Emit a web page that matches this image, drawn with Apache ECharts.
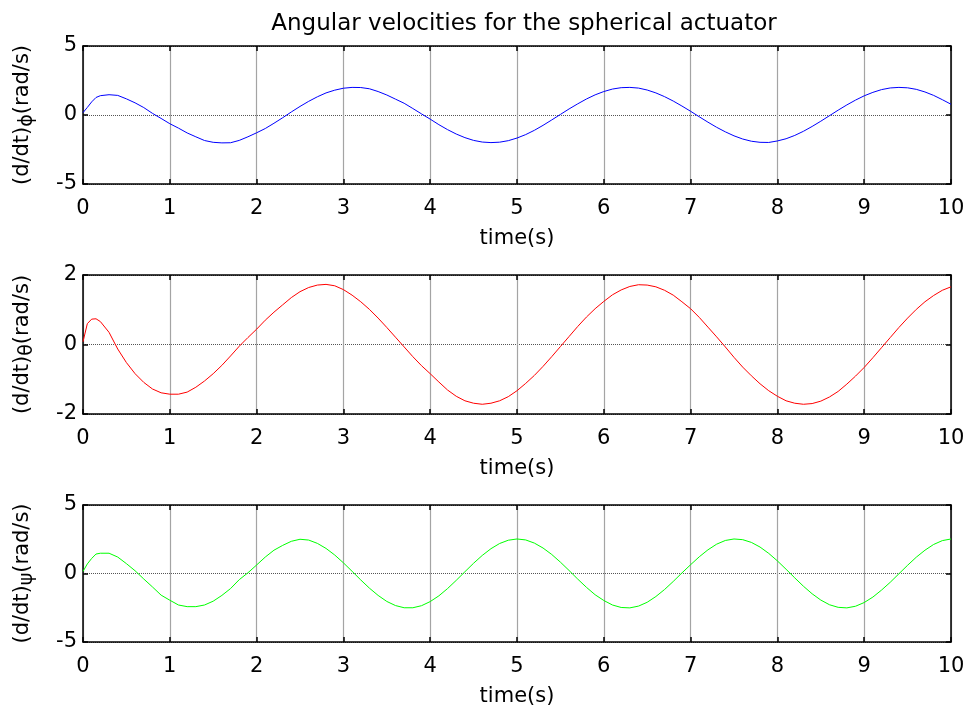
<!DOCTYPE html>
<html>
<head>
<meta charset="utf-8">
<script src="https://cdn.jsdelivr.net/npm/echarts@6/dist/echarts.min.js"></script>
<style>html,body{margin:0;padding:0;background:#fff;}#chart{width:971px;height:711px;}</style>
</head>
<body>
<div id="chart"></div>
<script>
// sample times (s)
const time = [0,0.05,0.1,0.15,0.2,0.3,0.4,0.5,0.6,0.7,0.8,0.9,1.0,1.1,1.2,1.3,1.4,1.5,1.6,1.7,1.8,1.9,
  2.0,2.1,2.2,2.3,2.4,2.5,2.6,2.7,2.8,2.9,3.0,3.1,3.2,3.3,3.4,3.5,3.6,3.7,3.8,3.9,
  4.0,4.1,4.2,4.3,4.4,4.5,4.6,4.7,4.8,4.9,5.0,5.1,5.2,5.3,5.4,5.5,5.6,5.7,5.8,5.9,
  6.0,6.1,6.2,6.3,6.4,6.5,6.6,6.7,6.8,6.9,7.0,7.1,7.2,7.3,7.4,7.5,7.6,7.7,7.8,7.9,
  8.0,8.1,8.2,8.3,8.4,8.5,8.6,8.7,8.8,8.9,9.0,9.1,9.2,9.3,9.4,9.5,9.6,9.7,9.8,9.9,10.0];

// (d/dt)phi (rad/s)
const phiRate = [0.17,0.55,0.95,1.27,1.40,1.47,1.42,1.17,0.88,0.54,0.12,-0.25,-0.63,-0.95,-1.30,-1.58,-1.85,-1.98,-2.02,-2.01,-1.84,-1.58,
  -1.29,-0.98,-0.60,-0.20,0.22,0.62,0.99,1.32,1.60,1.80,1.94,2.00,1.99,1.90,1.70,1.45,1.15,0.85,0.47,0.08,
  -0.30,-0.70,-1.06,-1.38,-1.64,-1.84,-1.96,-2.00,-1.97,-1.86,-1.67,-1.42,-1.11,-0.75,-0.36,0.04,0.44,0.81,1.16,1.46,
  1.70,1.88,1.98,2.00,1.95,1.81,1.60,1.33,1.01,0.65,0.27,-0.13,-0.52,-0.89,-1.22,-1.51,-1.74,-1.90,-1.98,-1.99,
  -1.88,-1.72,-1.48,-1.18,-0.83,-0.45,-0.05,0.35,0.73,1.08,1.39,1.64,1.84,1.96,2.00,1.97,1.86,1.67,1.42,1.11,0.78];

// (d/dt)theta (rad/s)
const thetaRate = [0.08,0.60,0.73,0.74,0.66,0.35,-0.13,-0.52,-0.84,-1.09,-1.28,-1.39,-1.43,-1.43,-1.37,-1.23,-1.05,-0.84,-0.60,-0.33,-0.05,0.20,
  0.44,0.70,0.93,1.14,1.35,1.52,1.64,1.71,1.73,1.69,1.58,1.42,1.23,1.01,0.76,0.49,0.21,-0.07,-0.35,-0.61,
  -0.84,-1.08,-1.31,-1.49,-1.62,-1.69,-1.72,-1.69,-1.62,-1.50,-1.33,-1.12,-0.89,-0.63,-0.35,-0.06,0.23,0.52,0.79,1.03,
  1.24,1.43,1.57,1.67,1.72,1.71,1.66,1.56,1.42,1.23,1.03,0.78,0.50,0.22,-0.07,-0.37,-0.65,-0.90,-1.13,-1.33,
  -1.49,-1.62,-1.69,-1.72,-1.70,-1.63,-1.51,-1.35,-1.14,-0.91,-0.66,-0.38,-0.09,0.20,0.49,0.76,1.01,1.23,1.41,1.56,1.66];

// (d/dt)psi (rad/s)
const psiRate = [0.15,0.70,1.10,1.42,1.48,1.48,1.20,0.72,0.20,-0.40,-0.98,-1.58,-1.95,-2.30,-2.42,-2.42,-2.30,-2.02,-1.60,-1.10,-0.45,0.05,
  0.62,1.20,1.70,2.05,2.35,2.50,2.44,2.20,1.83,1.35,0.78,0.16,-0.47,-1.07,-1.60,-2.04,-2.34,-2.50,-2.50,-2.35,
  -2.05,-1.63,-1.10,-0.50,0.13,0.75,1.32,1.81,2.19,2.43,2.52,2.45,2.22,1.86,1.39,0.83,0.22,-0.41,-1.01,-1.55,
  -1.97,-2.30,-2.48,-2.51,-2.38,-2.10,-1.68,-1.17,-0.58,0.04,0.64,1.22,1.73,2.14,2.41,2.52,2.47,2.27,1.93,1.47,
  0.92,0.31,-0.32,-0.93,-1.48,-1.94,-2.28,-2.47,-2.51,-2.39,-2.12,-1.72,-1.21,-0.64,-0.02,0.60,1.19,1.70,2.12,2.40,2.52];

const titleText = 'Angular velocities for the spherical actuator';
const xName = 'time(s)';
const greek = ['ϕ', 'θ', 'ψ'];
const yLimits = [[-5, 5, 5], [-2, 2, 2], [-5, 5, 5]];
const colors = ['#0000ff', '#ff0000', '#00ff00'];
const seriesValues = [phiRate, thetaRate, psiRate];

const FONT = 'DejaVu Sans';
const chart = echarts.init(document.getElementById('chart'), null, {renderer: 'canvas'});

const grids = [
  {left: 83, right: 20, top: 46, height: 138},
  {left: 83, right: 20, top: 275, height: 139},
  {left: 83, right: 20, top: 505, height: 137}
];

const frameLine = {show: true, onZero: false, lineStyle: {color: '#000', width: 1.5}};
const tick = {show: true, inside: true, length: 5, lineStyle: {color: '#000', width: 1.5}};

const xAxes = [], yAxes = [], series = [];
for (let i = 0; i < 3; i++) {
  xAxes.push({
    type: 'value', gridIndex: i, min: 0, max: 10, interval: 1, position: 'bottom',
    name: xName, nameLocation: 'middle', nameGap: 44,
    nameTextStyle: {fontFamily: FONT, fontSize: 21, color: '#000'},
    axisLine: frameLine, axisTick: tick,
    axisLabel: {show: true, margin: 14, fontFamily: FONT, fontSize: 21, color: '#000'},
    splitLine: {show: true, lineStyle: {color: '#a4a4a4', width: 1.2, type: 'solid'}}
  });
  xAxes.push({
    type: 'value', gridIndex: i, min: 0, max: 10, interval: 1, position: 'top',
    axisLine: frameLine, axisTick: tick,
    axisLabel: {show: false}, splitLine: {show: false}
  });
  const g = greek[i];
  yAxes.push({
    type: 'value', gridIndex: i, min: yLimits[i][0], max: yLimits[i][1], interval: yLimits[i][2], position: 'left',
    name: '{a|(d/dt)}{g|' + g + '}{a|(rad/s)}', nameLocation: 'middle', nameGap: 46, nameRotate: 90,
    nameTextStyle: {
      fontFamily: FONT, fontSize: 21, color: '#000',
      rich: {
        a: {fontFamily: FONT, fontSize: 21, color: '#000', verticalAlign: 'top'},
        g: {fontFamily: FONT, fontSize: 19, color: '#000', padding: [6, 0, 0, 0]}
      }
    },
    axisLine: frameLine, axisTick: tick,
    axisLabel: {show: true, margin: 6, fontFamily: FONT, fontSize: 21, color: '#000'},
    splitLine: {show: true, lineStyle: {color: '#555', width: 1, type: 'dotted'}}
  });
  yAxes.push({
    type: 'value', gridIndex: i, min: yLimits[i][0], max: yLimits[i][1], interval: yLimits[i][2], position: 'right',
    axisLine: frameLine, axisTick: tick,
    axisLabel: {show: false}, splitLine: {show: false}
  });
  series.push({
    type: 'line', xAxisIndex: 2 * i, yAxisIndex: 2 * i,
    data: time.map((t, k) => [t, seriesValues[i][k]]),
    showSymbol: false, smooth: false,
    lineStyle: {color: colors[i], width: 1}, itemStyle: {color: colors[i]},
    animation: false
  });
}

chart.setOption({
  backgroundColor: '#fff',
  animation: false,
  title: {
    text: titleText, left: 519, top: 8, textAlign: 'center',
    textStyle: {fontFamily: FONT, fontSize: 23, fontWeight: 'normal', color: '#000'}
  },
  grid: grids,
  xAxis: xAxes,
  yAxis: yAxes,
  series: series
});
</script>
</body>
</html>
